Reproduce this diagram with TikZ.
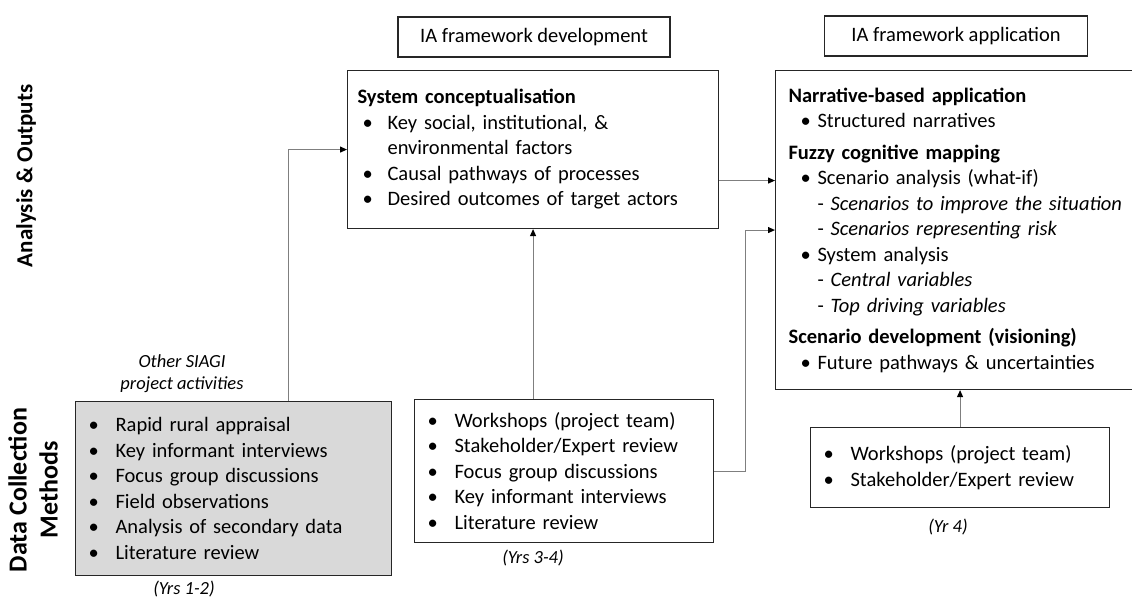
\documentclass[tikz,border=0pt]{standalone}
\usepackage{fontspec}
\setmainfont{Carlito}
\usepackage{xcolor}
\usetikzlibrary{arrows.meta}
\definecolor{boxgray}{HTML}{D9D9D9}
\definecolor{linkgray}{HTML}{7F7F7F}
\newcommand*{\bul}[2][27pt]{\makebox[#1][l]{\textbullet}#2}
\newcommand*{\subitm}[2][27pt]{\hspace*{#1}- \textit{#2}}
\begin{document}
\begin{tikzpicture}[x=1pt, y=-1pt,
  box/.style={draw=black!85, line width=1.1pt, anchor=north west, align=left, inner xsep=13pt,
    font=\fontsize{20.5}{25.5}\selectfont},
  head/.style={draw=black!85, line width=1.1pt, minimum height=40pt, font=\fontsize{20.5}{25.5}\selectfont},
  note/.style={align=center, font=\fontsize{18.5}{22}\selectfont\itshape},
  side/.style={rotate=90, align=center, font=\bfseries},
  arr/.style={draw=linkgray, line width=1.1pt, -{Triangle[length=7pt,width=6pt,color=black]}}]
\useasboundingbox (0,0) rectangle (1132,599);
\node[side, font=\fontsize{23}{28}\selectfont\bfseries] (outputs) at (26,176) {Analysis \& Outputs};
\node[side, font=\fontsize{26}{31}\selectfont\bfseries] (methods) at (33,490) {Data Collection\\Methods};
\node[head, minimum width=272pt] (devhead) at (534,37) {IA framework development};
\node[head, minimum width=263pt] (apphead) at (956,36) {IA framework application};
% analysis and outputs
\node[box, inner xsep=15pt, text width=341pt, minimum height=158pt] (syscon) at (347,70) {%
  \hspace*{-5pt}\textbf{System conceptualisation}\\
  \bul[25pt]{Key social, institutional, \&}\\
  \hspace*{25pt}environmental factors\\
  \bul[25pt]{Causal pathways of processes}\\
  \bul[25pt]{Desired outcomes of target actors}};
\node[box, text width=344pt, minimum height=319pt] (apply) at (775,70) {%
  \textbf{Narrative-based application}\\
  \hspace*{12pt}\bul[17pt]{Structured narratives}\\[6pt]
  \textbf{Fuzzy cognitive mapping}\\
  \hspace*{12pt}\bul[17pt]{Scenario analysis (what-if)}\\
  \subitm[29pt]{Scenarios to improve the situation}\\
  \subitm[29pt]{Scenarios representing risk}\\
  \hspace*{12pt}\bul[17pt]{System analysis}\\
  \subitm[29pt]{Central variables}\\
  \subitm[29pt]{Top driving variables}\\[6pt]
  \textbf{Scenario development (visioning)}\\
  \hspace*{12pt}\bul[17pt]{Future pathways \& uncertainties}};
% data collection
\node[box, fill=boxgray, text width=290pt, minimum height=174pt] (siagi) at (75,401) {%
  \bul{Rapid rural appraisal}\\
  \bul{Key informant interviews}\\
  \bul{Focus group discussions}\\
  \bul{Field observations}\\
  \bul{Analysis of secondary data}\\
  \bul{Literature review}};
\node[box, text width=273pt, minimum height=143pt] (devmeth) at (414,399) {%
  \bul{Workshops (project team)}\\
  \bul{Stakeholder/Expert review}\\
  \bul{Focus group discussions}\\
  \bul{Key informant interviews}\\
  \bul{Literature review}};
\node[box, text width=273pt, minimum height=80pt] (appmeth) at (810,427) {%
  \bul{Workshops (project team)}\\
  \bul{Stakeholder/Expert review}};
\node[note] (other) at (182,374) {Other SIAGI\\project activities};
\node[note] (yrs12) at (184,589) {(Yrs 1-2)};
\node[note] (yrs34) at (533,558) {(Yrs 3-4)};
\node[note] (yr4) at (948,527) {(Yr 4)};
% links
\draw[arr] ([xshift=55pt]siagi.north) |- (syscon.west);
\draw[arr] (devmeth.north -| syscon.south) -- (syscon.south);
\draw[arr] ([yshift=-31pt]syscon.east) -- ([yshift=-31pt]syscon.east -| apply.west);
\draw[arr] (devmeth.east) -- ++(31,0) |- (apply.west);
\draw[arr] (appmeth.north) -- (appmeth.north |- apply.south);
\end{tikzpicture}
\end{document}
